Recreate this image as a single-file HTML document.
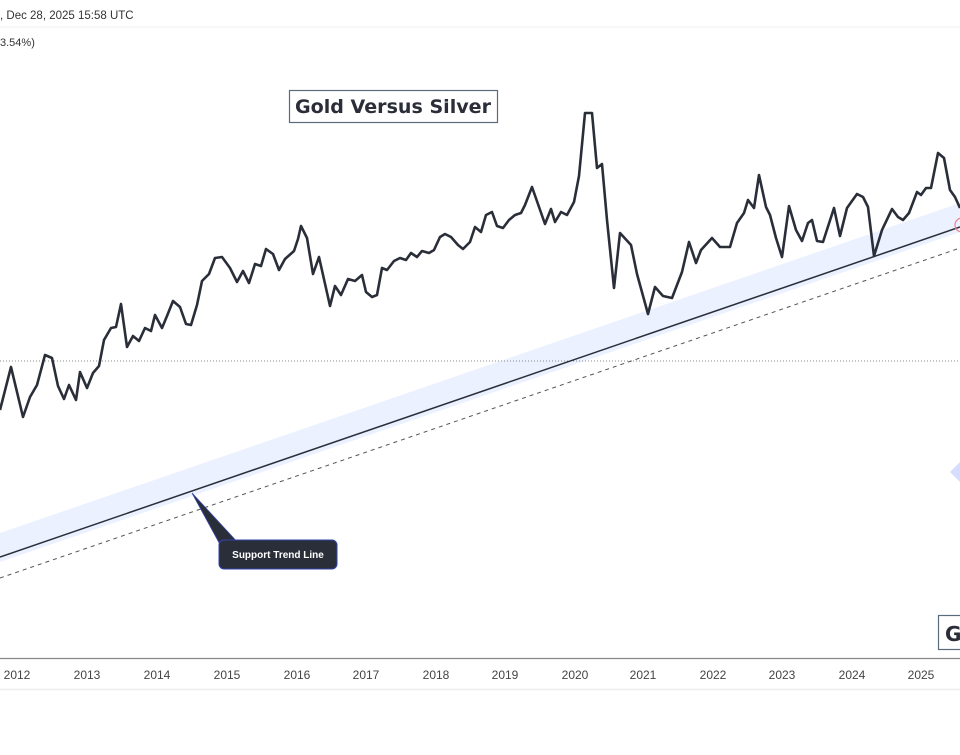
<!DOCTYPE html>
<html><head><meta charset="utf-8"><style>
body{margin:0;width:960px;height:750px;background:#fff;overflow:hidden;font-family:"Liberation Sans","DejaVu Sans",sans-serif}
</style></head><body>
<svg width="960" height="750" viewBox="0 0 960 750" xmlns="http://www.w3.org/2000/svg">
<text x="0" y="19" font-size="11.5" fill="#333">, Dec 28, 2025 15:58 UTC</text>
<line x1="0" y1="27" x2="960" y2="27" stroke="#f0f0f0"/>
<text x="0" y="46" font-size="11" fill="#333">3.54%)</text>
<polygon points="0,533 960,203 960,232 0,562" fill="#e9efff" opacity="0.85"/>
<line x1="0" y1="361" x2="960" y2="361" stroke="#888" stroke-dasharray="1,2" stroke-width="1"/>
<line x1="0" y1="557" x2="960" y2="227" stroke="#2a2e39" stroke-width="1.5"/>
<line x1="0" y1="578" x2="960" y2="248" stroke="#555" stroke-width="1" stroke-dasharray="4,4"/>
<polyline fill="none" stroke="#2a2e39" stroke-width="2.6" stroke-linejoin="round" points="0,410 11,367 23,417 30,397 37,385 45,355 52,358 58,386 64,399 69,385 76,400 80,372 87,388 93,373 99,366 104,340 111,328 116,327 121,304 127,347 133,336 139,341 145,328 151,331 155,315 162,328 167,316 173,301 180,307 186,324 191,325 197,305 202,281 209,274 215,258 222,257 230,268 237,282 243,271 249,283 255,264 261,266 266,249 273,254 279,270 285,259 294,251 298,239 301,226 307,238 313,274 319,257 330,306 335,286 341,295 348,279 355,281 362,275 366,292 372,297 377,295 382,268 387,270 394,261 400,258 406,260 411,253 417,257 422,251 429,253 434,250 440,237 445,234 451,237 458,245 463,249 470,242 475,227 481,232 486,215 492,212 497,226 503,228 509,220 515,215 521,213 525,205 532,187 545,224 551,209 555,222 561,212 567,215 574,202 579,176 585,113 592,113 597,168 602,164 607,220 614,288 620,233 631,245 637,274 648,314 655,287 663,296 672,298 682,272 689,242 696,263 701,250 712,238 720,247 730,247 737,223 744,213 748,200 754,208 759,175 766,207 770,215 776,238 782,257 789,206 796,230 802,241 808,223 812,220 817,241 823,242 834,208 840,236 847,208 857,194 863,197 868,207 874,256 882,230 892,209 898,217 903,220 909,213 917,192 921,195 926,188 931,188 938,153 944,158 950,190 955,197 960,208"/>
<circle cx="962" cy="225" r="7" fill="none" stroke="#f08090" stroke-width="1.2"/>
<polygon points="950,472 960,462 960,482" fill="#d5deff"/>
<rect x="289.5" y="90.5" width="208" height="32" fill="#fff" stroke="#5b6b7b" stroke-width="1.2"/>
<text x="393" y="113" text-anchor="middle" font-size="19" font-weight="bold" fill="#2a2e39" font-family="DejaVu Sans,sans-serif" textLength="196" lengthAdjust="spacingAndGlyphs">Gold Versus Silver</text>
<rect x="938.5" y="615.5" width="30" height="34" fill="#fff" stroke="#5b6b7b" stroke-width="1.2"/>
<text x="945" y="641" font-size="20" font-weight="bold" fill="#2a2e39" font-family="DejaVu Sans,sans-serif">G</text>
<polygon points="192,493 222,548 240,545" fill="#2a2e39" stroke="#3344aa" stroke-width="0.8"/>
<rect x="219" y="540" width="118" height="29" rx="5" fill="#2a2e39" stroke="#3344aa" stroke-width="1"/>
<text x="278" y="558" text-anchor="middle" font-size="10" font-weight="bold" fill="#fff">Support Trend Line</text>
<line x1="0" y1="658.5" x2="960" y2="658.5" stroke="#888" stroke-width="1.2"/>
<g font-size="12" fill="#444" text-anchor="middle">
<text x="17" y="679">2012</text><text x="87" y="679">2013</text><text x="157" y="679">2014</text><text x="227" y="679">2015</text><text x="297" y="679">2016</text><text x="366" y="679">2017</text><text x="436" y="679">2018</text><text x="505" y="679">2019</text><text x="575" y="679">2020</text><text x="643" y="679">2021</text><text x="713" y="679">2022</text><text x="782" y="679">2023</text><text x="852" y="679">2024</text><text x="921" y="679">2025</text>
</g>
<line x1="0" y1="689.5" x2="960" y2="689.5" stroke="#eee" stroke-width="1.5"/>
</svg>
</body></html>
